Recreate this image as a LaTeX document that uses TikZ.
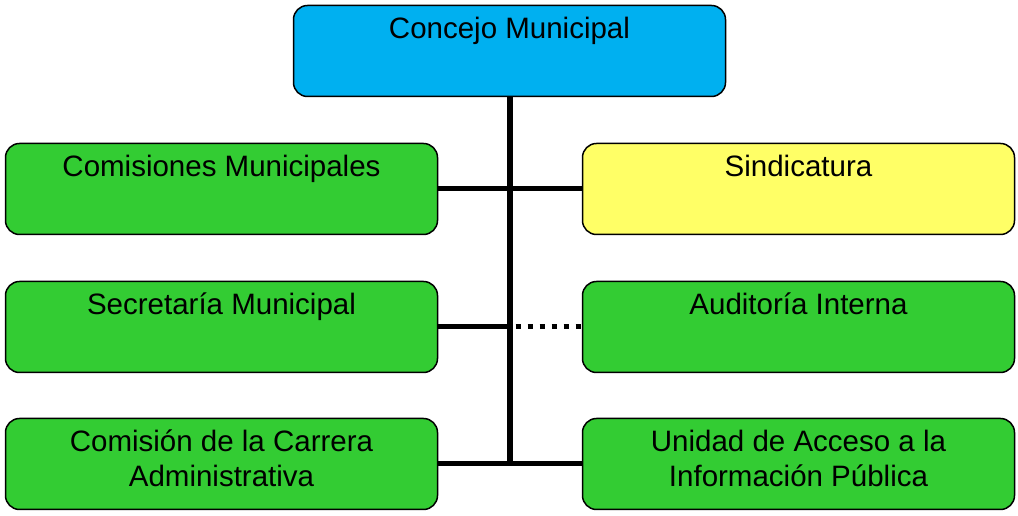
\documentclass[tikz,border=0pt]{standalone}
\usepackage{fontspec}
\setmainfont{Liberation Sans}
\usetikzlibrary{positioning}
\definecolor{concejoblue}{HTML}{00B0F0}
\definecolor{unitgreen}{HTML}{33CC33}
\definecolor{sindyellow}{HTML}{FFFF66}
\tikzstyle{unit} = [draw, line width=1.5pt, rounded corners=14pt, minimum width=432pt, minimum height=91pt, inner sep=0pt, fill=unitgreen]
\tikzstyle{lbl} = [anchor=base, align=center, inner sep=0pt, font=\fontsize{29.5}{35}\selectfont]
\tikzstyle{link} = [line width=5pt]

\begin{document}
\begin{tikzpicture}[x=1pt,y=1pt]
	\useasboundingbox (0,0) rectangle (1018,516);
	% boxes
	\node[unit, fill=concejoblue] (concejo) at (509.5,465) {};
	\node[unit] (comisiones) at (221.5,327) {};
	\node[unit, fill=sindyellow] (sindicatura) at (798.5,327) {};
	\node[unit] (secretaria) at (221.5,189) {};
	\node[unit] (auditoria) at (798.5,189) {};
	\node[unit] (carrera) at (221.5,52) {};
	\node[unit] (acceso) at (798.5,52) {};
	% texts (base = last line)
	\node[lbl] (tconcejo) at ([yshift=-34pt]concejo.north) {Concejo Municipal};
	\node[lbl] (tcomisiones) at ([yshift=-34pt]comisiones.north) {Comisiones Municipales};
	\node[lbl] (tsindicatura) at ([yshift=-34pt]sindicatura.north) {Sindicatura};
	\node[lbl] (tsecretaria) at ([yshift=-34pt]secretaria.north) {Secretaría Municipal};
	\node[lbl] (tauditoria) at ([yshift=-34pt]auditoria.north) {Auditoría Interna};
	\node[lbl] (tcarrera) at ([yshift=-69pt]carrera.north) {Comisión de la Carrera\\Administrativa};
	\node[lbl] (tacceso) at ([yshift=-69pt]acceso.north) {Unidad de Acceso a la\\Información Pública};
	% lines
	\coordinate (spinemid) at (concejo.south |- secretaria.east);
	\coordinate (spinebottom) at (concejo.south |- carrera.east);
	\draw[line width=6pt] (concejo.south) -- ([yshift=-2.5pt]spinebottom);
	\draw[link] (comisiones.east) -- (sindicatura.west);
	\draw[link] (secretaria.east) -- (spinemid);
	\draw[link, dash pattern=on 5pt off 7pt] ([xshift=6pt]spinemid) -- (auditoria.west);
	\draw[link] (carrera.east) -- (acceso.west);
\end{tikzpicture}
\end{document}
